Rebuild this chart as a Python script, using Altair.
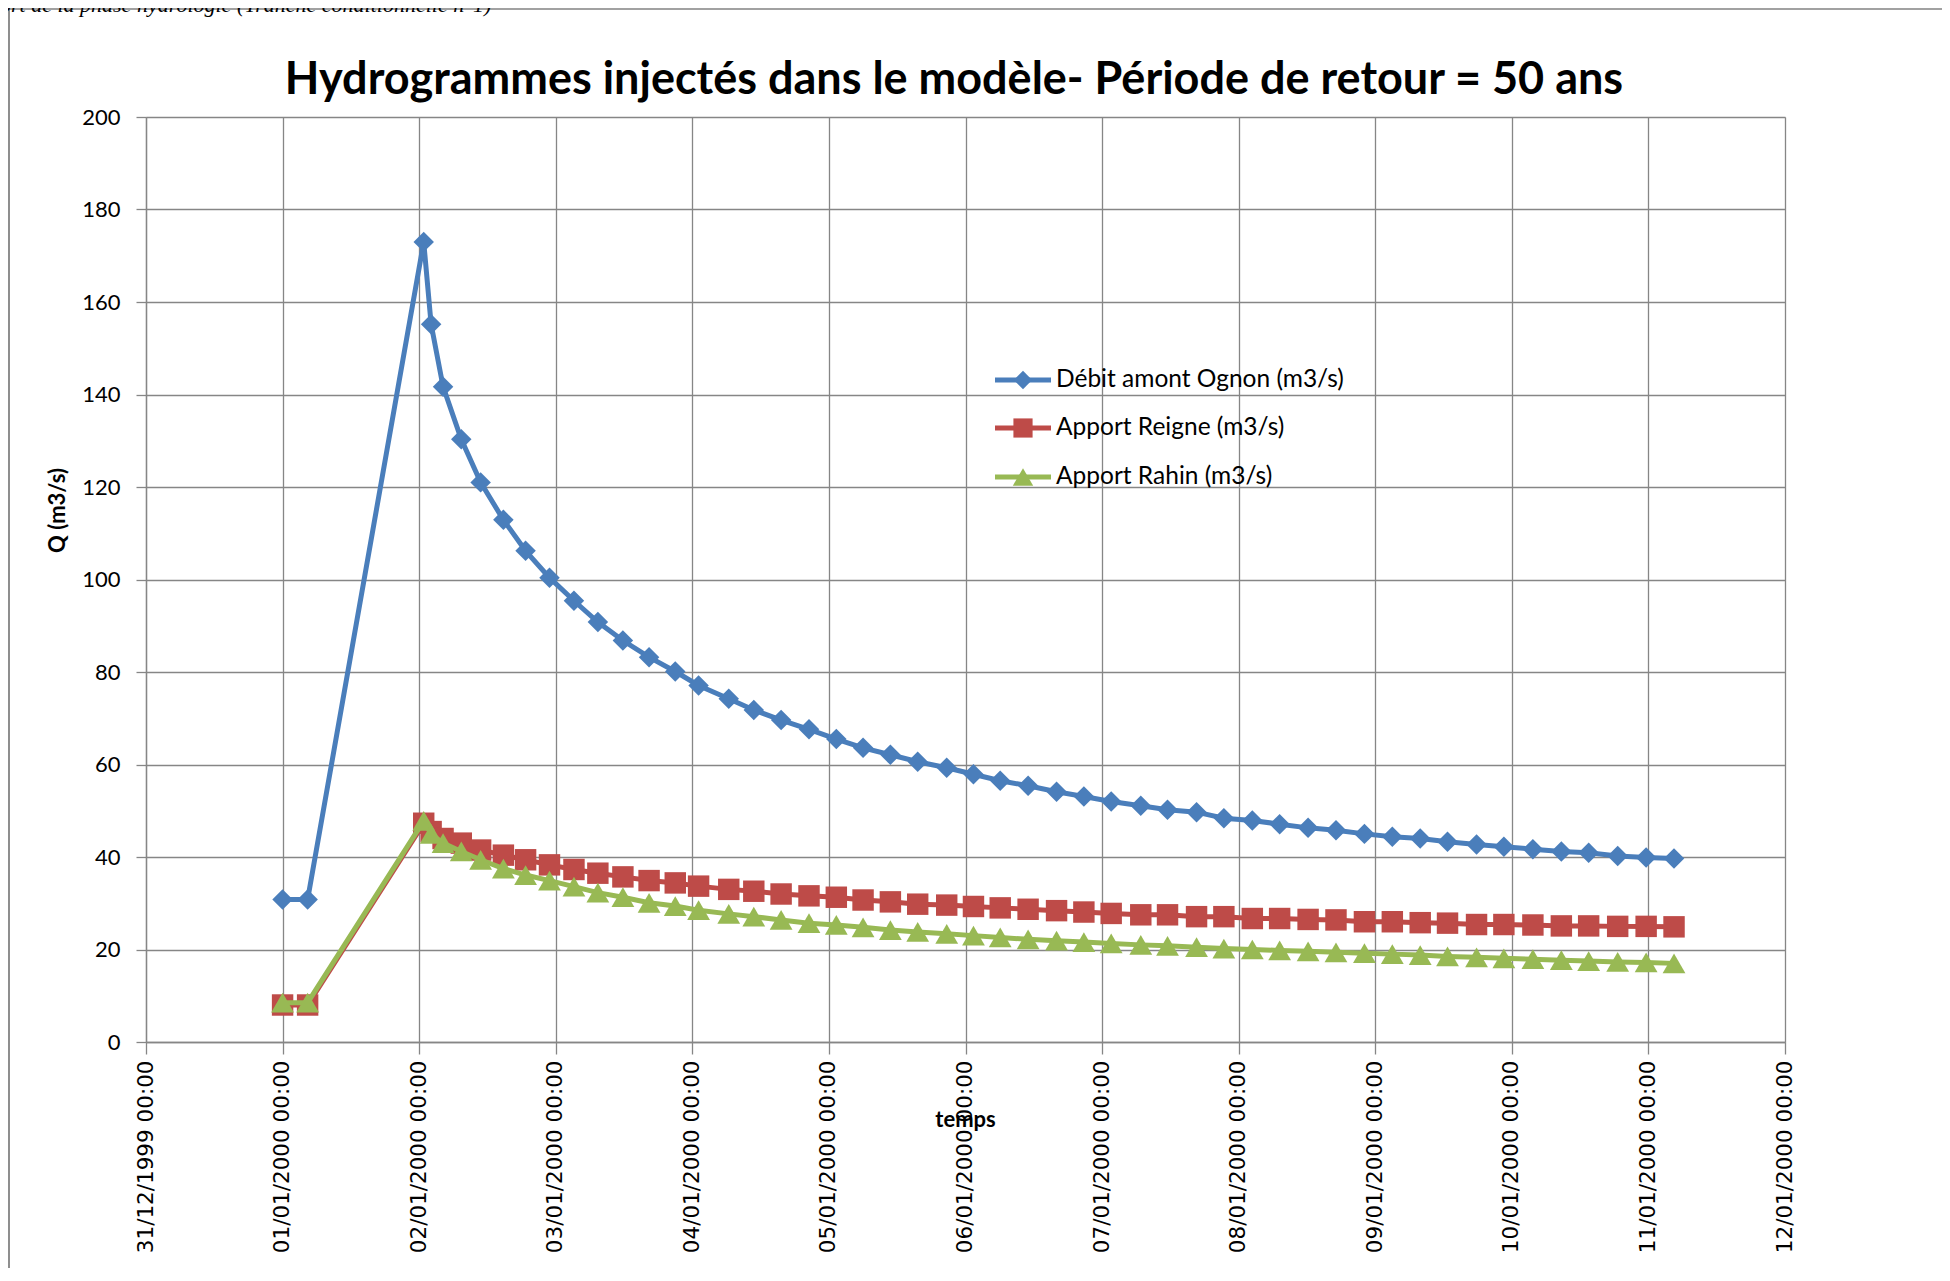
import altair as alt
import pandas as pd

# ---- data (hours after 01/01/2000 00:00) ----
hours = [0.0, 4.4, 24.8, 26.1, 28.2, 31.4, 34.8, 38.8, 42.7, 46.9,
         51.2, 55.4, 59.8, 64.4, 69.0, 73.1, 78.4, 82.8, 87.6, 92.5,
         97.3, 102.0, 106.8, 111.6, 116.7, 121.4, 126.1, 131.0, 136.0, 140.8,
         145.6, 150.8, 155.5, 160.6, 165.4, 170.4, 175.2, 180.2, 185.1, 190.1,
         195.0, 199.9, 204.7, 209.8, 214.6, 219.7, 224.7, 229.5, 234.6, 239.6,
         244.5]

debit_ognon = [30.8, 30.8, 173.0, 155.2, 141.7, 130.3, 121.0, 112.9, 106.2, 100.4,
               95.4, 90.8, 86.8, 83.2, 80.1, 77.1, 74.2, 71.8, 69.6, 67.6,
               65.5, 63.6, 62.1, 60.6, 59.3, 57.9, 56.5, 55.4, 54.1, 53.1,
               52.0, 51.1, 50.2, 49.7, 48.4, 47.9, 47.1, 46.3, 45.8, 45.0,
               44.4, 44.0, 43.3, 42.7, 42.2, 41.7, 41.2, 40.9, 40.2, 39.9,
               39.7]

apport_reigne = [8.0, 8.0, 47.3, 45.5, 44.0, 43.0, 41.5, 40.4, 39.4, 38.3,
                 37.3, 36.5, 35.7, 34.9, 34.4, 33.7, 33.0, 32.6, 32.0, 31.6,
                 31.3, 30.7, 30.3, 29.8, 29.6, 29.3, 29.0, 28.7, 28.4, 28.1,
                 27.8, 27.5, 27.5, 27.1, 27.1, 26.7, 26.7, 26.5, 26.4, 26.0,
                 26.0, 25.8, 25.7, 25.4, 25.4, 25.3, 25.1, 25.1, 25.0, 25.0,
                 24.9]

apport_rahin = [8.5, 8.5, 47.8, 45.0, 43.0, 41.2, 39.4, 37.5, 36.1, 34.9,
                33.6, 32.3, 31.3, 30.1, 29.4, 28.5, 27.7, 27.1, 26.4, 25.7,
                25.3, 24.8, 24.2, 23.8, 23.4, 23.0, 22.6, 22.2, 21.9, 21.6,
                21.3, 21.0, 20.8, 20.5, 20.2, 20.0, 19.8, 19.6, 19.4, 19.2,
                19.0, 18.8, 18.5, 18.3, 18.1, 17.9, 17.7, 17.5, 17.3, 17.2,
                17.0]

series_names = ["Débit amont Ognon (m3/s)", "Apport Reigne (m3/s)", "Apport Rahin (m3/s)"]
series_values = [debit_ognon, apport_reigne, apport_rahin]
line_colors = ["#4A7EBB", "#BE4B48", "#98B954"]
marker_shapes = ["diamond", "square", "triangle-up"]
marker_sizes = [420, 460, 520]

title_text = "Hydrogrammes injectés dans le modèle- Période de retour = 50 ans"
header_text = "ort de la phase hydrologie (Tranche conditionnelle n°1)"
x_title = "temps"
y_title = "Q (m3/s)"
y_ticks = [0, 20, 40, 60, 80, 100, 120, 140, 160, 180, 200]
# day ticks: 31/12/1999 .. 12/01/2000
tick_days = [(1999, 12, 31)] + [(2000, 1, d) for d in range(1, 13)]

W, H = 1639, 925
PAD = {"left": 138, "top": 109, "right": 157, "bottom": 226}

base_time = pd.Timestamp("2000-01-01 00:00")
rows = []
for name, vals in zip(series_names, series_values):
    for h, v in zip(hours, vals):
        rows.append({"time": base_time + pd.Timedelta(hours=h), "Q": v, "serie": name})
df = pd.DataFrame(rows)

grid_col = "#868686"
x_enc = alt.X(
    "time:T",
    scale=alt.Scale(domain=[alt.DateTime(year=1999, month=12, date=31),
                            alt.DateTime(year=2000, month=1, date=12)]),
    axis=alt.Axis(
        values=[alt.DateTime(year=y, month=m, date=d) for (y, m, d) in tick_days],
        format="%d/%m/%Y %H:%M",
        labelAngle=270,
        labelFont="DejaVu Sans",
        labelFontSize=21.5,
        labelColor="#000000",
        labelPadding=6,
        labelLimit=0,
        tickSize=12,
        tickColor=grid_col,
        tickWidth=1.3,
        domainColor=grid_col,
        domainWidth=1.3,
        grid=True,
        gridColor=grid_col,
        gridWidth=1.3,
        gridOpacity=1,
        title=x_title,
        titleFont="Lato",
        titleFontSize=22,
        titleFontWeight="bold",
        titleColor="#000000",
        titleX=819,
        titleY=77,
        titleAlign="center",
        titleBaseline="middle",
        labelOverlap=False,
        labelFlush=False,
    ),
)
y_enc = alt.Y(
    "Q:Q",
    scale=alt.Scale(domain=[0, 200], nice=False, zero=True),
    axis=alt.Axis(
        values=y_ticks,
        labelFont="Lato",
        labelFontSize=22,
        labelColor="#000000",
        labelPadding=16,
        tickSize=10,
        tickColor=grid_col,
        tickWidth=1.3,
        domainColor=grid_col,
        domainWidth=1.3,
        grid=True,
        gridColor=grid_col,
        gridWidth=1.3,
        gridOpacity=1,
        title=y_title,
        titleFont="Lato",
        titleFontSize=22,
        titleFontWeight="bold",
        titleColor="#000000",
        titleAngle=270,
        titleX=-89,
        titleY=393,
        titleAlign="center",
        titleBaseline="middle",
    ),
)

layers = []
for name, col, shp, sz in zip(series_names, line_colors, marker_shapes, marker_sizes):
    sub = alt.Chart(df).transform_filter(alt.datum.serie == name)
    layers.append(sub.mark_line(color=col, strokeWidth=5).encode(x=x_enc, y=y_enc))
    layers.append(sub.mark_point(shape=shp, size=sz, filled=True, color=col, opacity=1)
                  .encode(x=x_enc, y=y_enc))

one = alt.Data(values=[{"k": 0}])

# chart title (drawn as a text mark so it sits exactly where the original has it)
layers.append(alt.Chart(one).mark_text(text=title_text, font="Lato", fontSize=45, fontWeight="bold",
                                       color="#000000", align="center", baseline="middle")
              .encode(x=alt.value(808), y=alt.value(-37)))

# custom legend (inside plot area, like the Excel original)
leg_x0, leg_x1, leg_xm, leg_tx = 849, 905, 877, 910
leg_y = [263, 311, 360]
for name, col, shp, sz, yy in zip(series_names, line_colors, marker_shapes, marker_sizes, leg_y):
    layers.append(alt.Chart(one).mark_rule(color=col, strokeWidth=5).encode(
        x=alt.value(leg_x0), x2=alt.value(leg_x1), y=alt.value(yy)))
    layers.append(alt.Chart(one).mark_point(shape=shp, size=sz * 0.8, filled=True, color=col, opacity=1)
                  .encode(x=alt.value(leg_xm), y=alt.value(yy)))
    layers.append(alt.Chart(one).mark_text(text=name, font="Lato", fontSize=24.5, color="#000000",
                                           align="left", baseline="middle")
                  .encode(x=alt.value(leg_tx), y=alt.value(yy)))

# page frame & cut-off header of the scanned report
layers.append(alt.Chart(one).mark_rule(color="#444444", strokeWidth=1.2).encode(
    x=alt.value(-137), y=alt.value(-108), y2=alt.value(H + PAD["bottom"])))
layers.append(alt.Chart(one).mark_rule(color="#444444", strokeWidth=1.2).encode(
    x=alt.value(-137), x2=alt.value(W + PAD["right"]), y=alt.value(-108)))
layers.append(alt.Chart(one).mark_text(text=header_text, font="Liberation Serif", fontStyle="italic",
                                       fontSize=22, color="#000000", align="left",
                                       baseline="alphabetic")
              .encode(x=alt.value(-146), y=alt.value(-105)))

chart = alt.layer(*layers).properties(
    width=W,
    height=H,
    padding=PAD,
    autosize=alt.AutoSizeParams(type="none"),
).configure_view(stroke=None).configure(background="white")

chart.save("out.html", embed_options={"renderer": "svg", "actions": False})
